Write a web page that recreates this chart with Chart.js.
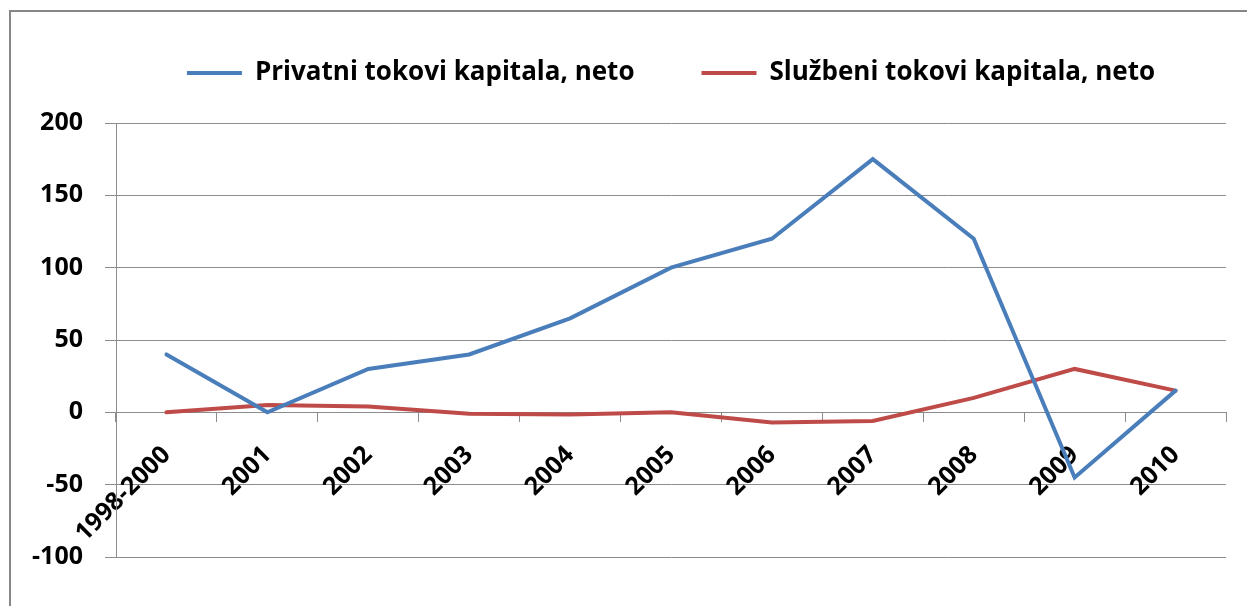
<!DOCTYPE html>
<html>
<head>
<meta charset="utf-8">
<title>Tokovi kapitala</title>
<script src="https://cdn.jsdelivr.net/npm/chart.js@4"></script>
<style>
  html, body { margin: 0; padding: 0; background: #fff; overflow: hidden; }
  #wrap { position: relative; width: 1247px; height: 606px; }
  #frame { position: absolute; left: 9px; top: 10px; width: 1300px; height: 700px;
           border: 2px solid #878787; box-sizing: border-box; }
  #chart { position: absolute; left: 0; top: 0; }
</style>
</head>
<body>
<div id="wrap">
  <div id="frame"></div>
  <canvas id="chart" width="1247" height="606"></canvas>
</div>
<script>
// categories and series (bn)
const years = ["1998-2000", "2001", "2002", "2003", "2004", "2005", "2006", "2007", "2008", "2009", "2010"];
const privatni = [40, 0, 30, 40, 65, 100, 120, 175, 120, -45, 15];
const sluzbeni = [0, 5, 4, -1, -1.5, 0, -7, -6, 10, 30, 15];
const seriesNames = ["Privatni tokovi kapitala, neto", "Službeni tokovi kapitala, neto"];
const yTicks = [-100, -50, 0, 50, 100, 150, 200];

const gridGray = "#8c8c8c";
const axisFont = { family: "'Open Sans'", size: 25, weight: "bold" };
const legendFont = { family: "'Open Sans'", size: 26, weight: "bold" };

Chart.defaults.font.family = "'Open Sans'";
Chart.defaults.color = "#000";

function draw() {
  new Chart(document.getElementById("chart"), {
    type: "line",
    data: {
      labels: years,
      datasets: [
        { label: seriesNames[0], data: privatni, xAxisID: "x", yAxisID: "y",
          borderColor: "#4A7EBB", backgroundColor: "#4A7EBB",
          borderWidth: 4, pointRadius: 0, tension: 0, borderCapStyle: "round" },
        { label: seriesNames[1], data: sluzbeni, xAxisID: "x", yAxisID: "y",
          borderColor: "#BE4B48", backgroundColor: "#BE4B48",
          borderWidth: 4, pointRadius: 0, tension: 0, borderCapStyle: "round" }
      ]
    },
    options: {
      responsive: false,
      animation: false,
      layout: { padding: { top: -7, left: 0, right: 21, bottom: 0 } },
      plugins: {
        legend: {
          position: "top",
          fullSize: false,
          labels: {
            usePointStyle: true,
            pointStyle: "line",
            pointStyleWidth: 55,
            padding: 67,
            color: "#000",
            font: legendFont
          }
        },
        tooltip: { enabled: false }
      },
      scales: {
        x: {
          type: "category",
          position: { y: 0 },
          offset: true,
          grid: { display: true, drawOnChartArea: false, offset: true, tickLength: 9, color: gridGray },
          border: { display: true, color: gridGray, width: 1 },
          ticks: { minRotation: 45, maxRotation: 45, autoSkip: false, padding: 19, color: "#000", font: axisFont },
          afterFit(scale) {
            scale.height = 49;
            scale.paddingLeft = 0;
            scale.paddingRight = 0;
          }
        },
        y: {
          min: -100,
          max: 200,
          afterBuildTicks(scale) {
            scale.ticks = yTicks.map(v => ({ value: v }));
          },
          grid: { color: gridGray, tickLength: 11, lineWidth: 1 },
          border: { display: true, color: gridGray, width: 1 },
          ticks: { padding: 22, color: "#000", font: axisFont },
          afterFit(scale) {
            scale.width = 116;
            scale.paddingBottom = 49;
          }
        },
        // empty band between the legend and the plot
        gap: {
          type: "category",
          position: "top",
          grid: { display: false, drawTicks: false },
          border: { display: false },
          ticks: { display: false },
          afterFit(scale) {
            scale.height = 27;
          }
        }
      }
    }
  });
}

document.fonts.load("bold 25px 'Open Sans'").then(draw, draw);
</script>
</body>
</html>
